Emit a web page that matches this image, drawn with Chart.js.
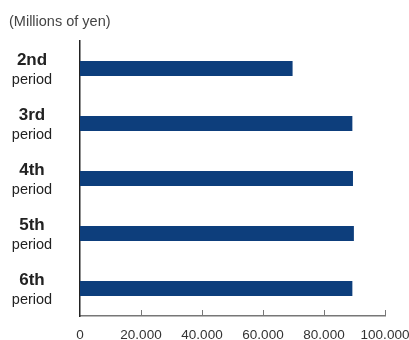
<!DOCTYPE html>
<html>
<head>
<meta charset="utf-8">
<script src="https://cdn.jsdelivr.net/npm/chart.js@4/dist/chart.umd.min.js"></script>
<style>
html,body{margin:0;padding:0;background:#fff;}
#wrap{width:409px;height:340px;position:relative;}
</style>
</head>
<body>
<div id="wrap"><canvas id="c" width="409" height="340"></canvas></div>
<script>
const periodNumbers = ["2nd", "3rd", "4th", "5th", "6th"];
const periodWord = "period";
const values = [69700, 89300, 89500, 89800, 89300];
const xTickValues = [0, 20000, 40000, 60000, 80000, 100000];
const xTickLabels = ["0", "20.000", "40.000", "60.000", "80.000", "100.000"];
const unitLabel = "(Millions of yen)";

const FONT = "'Liberation Sans', Arial, sans-serif";

const customDraw = {
  id: 'customDraw',
  afterDraw(chart) {
    const ctx = chart.ctx;
    const x = chart.scales.x, y = chart.scales.y;
    ctx.save();
    // unit label
    ctx.fillStyle = '#444';
    ctx.font = '14.5px ' + FONT;
    ctx.textAlign = 'left';
    ctx.textBaseline = 'middle';
    ctx.fillText(unitLabel, 9, 22);
    // category labels (two lines, different fonts)
    ctx.textAlign = 'center';
    periodNumbers.forEach((lab, i) => {
      const cy = y.getPixelForValue(i);
      ctx.fillStyle = '#222';
      ctx.font = 'bold 17px ' + FONT;
      ctx.fillText(lab, 32, cy - 8);
      ctx.font = '14.5px ' + FONT;
      ctx.fillText(periodWord, 32, cy + 11);
    });
    // inward tick marks on x axis
    ctx.strokeStyle = '#777';
    ctx.lineWidth = 1;
    const by = chart.chartArea.bottom;
    xTickValues.forEach(v => {
      if (v === 0) return;
      const px = Math.round(x.getPixelForValue(v)) + 0.5;
      ctx.beginPath();
      ctx.moveTo(px, by);
      ctx.lineTo(px, by - 6);
      ctx.stroke();
    });
    ctx.restore();
  }
};

new Chart(document.getElementById('c'), {
  type: 'bar',
  data: {
    labels: periodNumbers,
    datasets: [{
      data: values,
      backgroundColor: '#0d3e7c',
      borderWidth: 0,
      barPercentage: 0.55,
      categoryPercentage: 0.5
    }]
  },
  options: {
    indexAxis: 'y',
    responsive: false,
    animation: false,
    events: [],
    layout: { padding: { top: 41, right: 24, left: 0, bottom: 0 } },
    plugins: { legend: { display: false }, tooltip: { enabled: false }, title: { display: false } },
    scales: {
      x: {
        type: 'linear',
        min: 0, max: 100000,
        afterBuildTicks(scale) { scale.ticks = xTickValues.map(v => ({ value: v })); },
        afterFit(scale) { scale.height = 24; scale.paddingRight = 0; scale.paddingLeft = 0; },
        grid: { display: false, drawTicks: false },
        border: { display: true, color: '#777', width: 1.5 },
        ticks: {
          padding: 11,
          color: '#333',
          font: { family: FONT, size: 13.5 },
          maxRotation: 0,
          autoSkip: false,
          callback(v) { const i = xTickValues.indexOf(v); return i >= 0 ? xTickLabels[i] : ''; }
        }
      },
      y: {
        afterFit(scale) { scale.width = 80; },
        grid: { display: false, drawTicks: false },
        border: { display: true, color: '#222', width: 1.5 },
        ticks: { display: false }
      }
    }
  },
  plugins: [customDraw]
});
</script>
</body>
</html>
